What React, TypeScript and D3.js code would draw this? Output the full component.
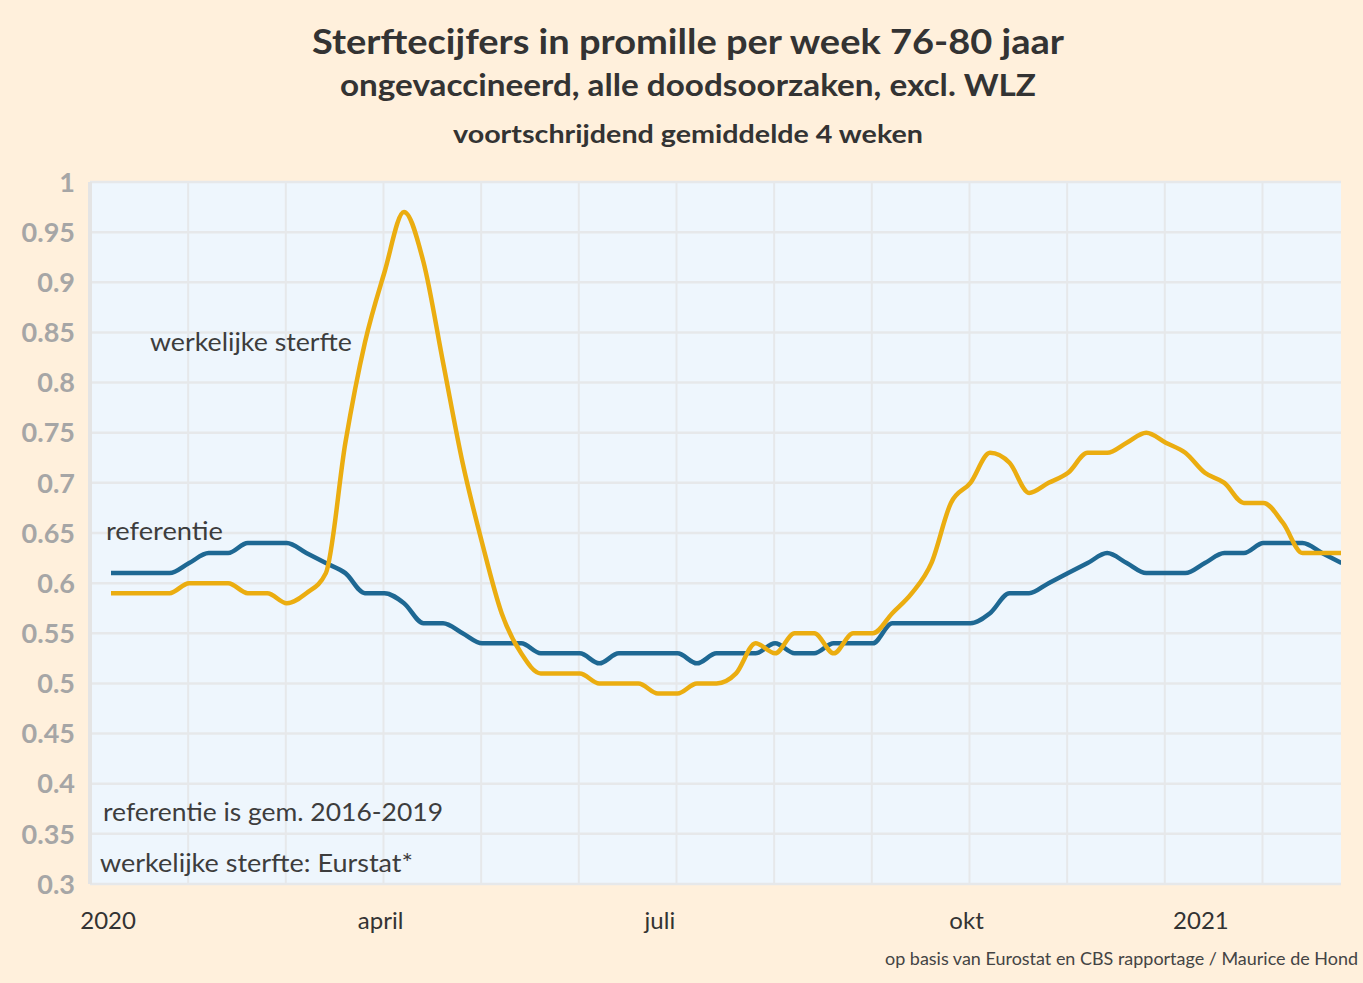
import React from "react";
import * as d3 from "d3";

const W = 1363;
const H = 983;

// weekly index 0..63 (2020 week 1 .. 2021 week ~11)
const referentie = [
  0.61, 0.61, 0.61, 0.61, 0.62, 0.63, 0.63, 0.64, 0.64, 0.64,
  0.63, 0.62, 0.61, 0.59, 0.59, 0.58, 0.56, 0.56, 0.55, 0.54,
  0.54, 0.54, 0.53, 0.53, 0.53, 0.52, 0.53, 0.53, 0.53, 0.53,
  0.52, 0.53, 0.53, 0.53, 0.54, 0.53, 0.53, 0.54, 0.54, 0.54,
  0.56, 0.56, 0.56, 0.56, 0.56, 0.57, 0.59, 0.59, 0.60, 0.61,
  0.62, 0.63, 0.62, 0.61, 0.61, 0.61, 0.62, 0.63, 0.63, 0.64,
  0.64, 0.64, 0.63, 0.62,
];

const werkelijk = [
  0.59, 0.59, 0.59, 0.59, 0.60, 0.60, 0.60, 0.59, 0.59, 0.58,
  0.59, 0.61, 0.74, 0.84, 0.91, 0.97, 0.92, 0.82, 0.72, 0.64,
  0.57, 0.53, 0.51, 0.51, 0.51, 0.50, 0.50, 0.50, 0.49, 0.49,
  0.50, 0.50, 0.51, 0.54, 0.53, 0.55, 0.55, 0.53, 0.55, 0.55,
  0.57, 0.59, 0.62, 0.68, 0.70, 0.73, 0.72, 0.69, 0.70, 0.71,
  0.73, 0.73, 0.74, 0.75, 0.74, 0.73, 0.71, 0.70, 0.68, 0.68,
  0.66, 0.63, 0.63, 0.63,
];

const xLabels = ["2020", "april", "juli", "okt", "2021"];
const xLabelWeeks = [-0.15, 13.8, 28.1, 43.8, 55.8];
const yTicks = d3.range(0.3, 1.0001, 0.05).map((v) => +v.toFixed(2));
const gridWeeks = d3.range(0, 12).map((k) => 3.95 + 5 * k);

const titleLines = [
  "Sterftecijfers in promille per week 76-80 jaar",
  "ongevaccineerd, alle doodsoorzaken, excl. WLZ",
  "voortschrijdend gemiddelde 4 weken",
];

const FONT = "Lato, 'Open Sans', sans-serif";

export default function App() {
  const left = 90;
  const right = 1341;
  const top = 182;
  const bottom = 884;

  const x = d3.scaleLinear().domain([-1.075, 62.97]).range([left, right]);
  const y = d3.scaleLinear().domain([0.3, 1]).range([bottom, top]);

  const line = d3
    .line<number>()
    .x((_, i) => x(i))
    .y((d) => y(d))
    .curve(d3.curveMonotoneX);

  const fmt = (v: number) => String(+v.toFixed(2));

  return (
    <svg
      width={W}
      height={H}
      style={{ position: "absolute", left: 0, top: 0, display: "block" }}
      fontFamily={FONT}
    >
      <defs>
        <clipPath id="plotclip">
          <rect x={left} y={top - 5} width={right - left} height={bottom - top + 10} />
        </clipPath>
      </defs>
      <rect x={0} y={0} width={W} height={H} fill="#fff0dc" />

      {/* titles */}
      <text x={688} y={54} textAnchor="middle" fontSize={34} fontWeight={700} fill="#333333" textLength={752} lengthAdjust="spacingAndGlyphs">
        {titleLines[0]}
      </text>
      <text x={688} y={96} textAnchor="middle" fontSize={30} fontWeight={700} fill="#333333" textLength={696} lengthAdjust="spacingAndGlyphs">
        {titleLines[1]}
      </text>
      <text x={688} y={143} textAnchor="middle" fontSize={25} fontWeight={700} fill="#333333" textLength={470} lengthAdjust="spacingAndGlyphs">
        {titleLines[2]}
      </text>

      {/* plot area */}
      <rect x={left} y={top} width={right - left} height={bottom - top} fill="#eef6fd" />
      {gridWeeks.map((g, i) => (
        <line key={"vg" + i} x1={x(g)} x2={x(g)} y1={top} y2={bottom} stroke="#e6e8ea" strokeWidth={2} />
      ))}
      {yTicks.map((t) => (
        <line key={"hg" + t} x1={left} x2={right} y1={y(t)} y2={y(t)} stroke="#e6e8ea" strokeWidth={2.5} />
      ))}
      <line x1={left} x2={left} y1={top} y2={bottom} stroke="#e4e4e4" strokeWidth={4} />

      {/* y tick labels */}
      {yTicks.map((t) => (
        <text key={"yl" + t} x={75} y={y(t)} dy="0.36em" textAnchor="end" fontSize={27} fontWeight={700} fill="#a6a6a6">
          {fmt(t)}
        </text>
      ))}

      {/* lines */}
      <g clipPath="url(#plotclip)">
        <path d={line(referentie) || ""} fill="none" stroke="#1e6893" strokeWidth={4.5} strokeLinejoin="round" />
        <path d={line(werkelijk) || ""} fill="none" stroke="#ebad10" strokeWidth={4.5} strokeLinejoin="round" />
      </g>

      {/* annotations */}
      <text x={150} y={351} fontSize={25} fill="#3d3d3d" textLength={202} lengthAdjust="spacingAndGlyphs">werkelijke sterfte</text>
      <text x={106} y={540} fontSize={25} fill="#3d3d3d" textLength={117} lengthAdjust="spacingAndGlyphs">referentie</text>
      <text x={103} y={821} fontSize={25} fill="#3d3d3d" textLength={340} lengthAdjust="spacingAndGlyphs">referentie is gem. 2016-2019</text>
      <text x={100} y={872} fontSize={25} fill="#3d3d3d" textLength={313} lengthAdjust="spacingAndGlyphs">werkelijke sterfte: Eurstat*</text>

      {/* x labels */}
      {xLabels.map((l, i) => (
        <text key={l} x={x(xLabelWeeks[i])} y={929} textAnchor="middle" fontSize={24} fill="#333333">
          {l}
        </text>
      ))}

      {/* footer */}
      <text x={1358} y={965} textAnchor="end" fontSize={18} fill="#444444" textLength={473} lengthAdjust="spacingAndGlyphs">
        op basis van Eurostat en CBS rapportage / Maurice de Hond
      </text>
    </svg>
  );
}
